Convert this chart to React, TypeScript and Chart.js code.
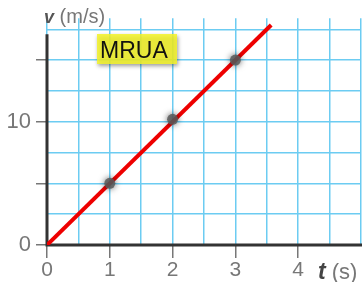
import React, { useEffect, useRef } from "react";
import { Chart, registerables } from "chart.js";

Chart.register(...registerables);

// Data
const pointT = [1, 2, 3];
const pointV = [5, 10.2, 15];
const lineT = [0, 3.57];
const lineV = [0, 17.85];
const xTickLabels = ["0", "1", "2", "3", "4"];
const yTickLabels = ["0", "10"];
const yMarkedTicks = [0, 5, 10, 15];
const xMax = 5;
const yMax = 18.4;
const yAxisTop = 17.1;
const yLabel = ["v", " (m/s)"];
const xLabel = ["t", " (s)"];
const boxText = "MRUA";

const GRID = "#6cccf2";
const GRAY = "#777777";
const AXIS = "#333333";

const decorPlugin = {
  id: "decor",
  beforeDatasetsDraw(chart: any) {
    const { ctx, scales } = chart;
    const x = scales.x;
    const y = scales.y;
    ctx.save();
    ctx.strokeStyle = AXIS;
    ctx.lineWidth = 3;
    ctx.beginPath();
    ctx.moveTo(x.getPixelForValue(0), y.getPixelForValue(yAxisTop));
    ctx.lineTo(x.getPixelForValue(0), y.getPixelForValue(0));
    ctx.lineTo(x.getPixelForValue(xMax) + 1, y.getPixelForValue(0));
    ctx.stroke();
    ctx.restore();
  },
  beforeDatasetDraw(chart: any, args: any) {
    if (args.index === 1) {
      chart.ctx.save();
      chart.ctx.shadowColor = "rgba(0,0,0,0.7)";
      chart.ctx.shadowBlur = 6;
    }
  },
  afterDatasetDraw(chart: any, args: any) {
    if (args.index === 1) chart.ctx.restore();
  },
  afterDraw(chart: any) {
    const { ctx } = chart;
    ctx.save();
    // y label
    ctx.textBaseline = "alphabetic";
    ctx.fillStyle = "#555";
    ctx.font = "italic bold 18px 'Liberation Sans'";
    ctx.fillText(yLabel[0], 44, 23);
    const w1 = ctx.measureText(yLabel[0]).width;
    ctx.fillStyle = GRAY;
    ctx.font = "20px 'Liberation Sans'";
    ctx.fillText(yLabel[1], 44 + w1, 23);
    // x label
    ctx.fillStyle = "#444";
    ctx.font = "italic bold 23px 'Liberation Sans'";
    ctx.fillText(xLabel[0], 318, 279);
    const w2 = ctx.measureText(xLabel[0]).width;
    ctx.fillStyle = GRAY;
    ctx.font = "22px 'Liberation Sans'";
    ctx.fillText(xLabel[1], 318 + w2, 279);
    // MRUA box
    ctx.shadowColor = "rgba(0,0,0,0.45)";
    ctx.shadowBlur = 4;
    ctx.shadowOffsetX = 1;
    ctx.shadowOffsetY = 2;
    ctx.fillStyle = "rgba(245,245,40,0.85)";
    ctx.fillRect(97, 34, 80, 30);
    ctx.shadowColor = "transparent";
    ctx.fillStyle = "#111";
    ctx.font = "23px 'Liberation Sans'";
    ctx.fillText(boxText, 100, 58);
    ctx.restore();
  },
};

export default function App() {
  const ref = useRef<HTMLCanvasElement>(null);
  useEffect(() => {
    if (!ref.current) return;
    const chart = new Chart(ref.current, {
      type: "scatter",
      data: {
        datasets: [
          {
            type: "line",
            data: lineT.map((t, i) => ({ x: t, y: lineV[i] })),
            borderColor: "#ee0000",
            borderWidth: 4,
            pointRadius: 0,
            order: 2,
          },
          {
            type: "scatter",
            data: pointT.map((t, i) => ({ x: t, y: pointV[i] })),
            backgroundColor: "rgba(90,90,90,0.85)",
            borderWidth: 0,
            pointRadius: 5.5,
            order: 1,
          },
        ],
      },
      plugins: [decorPlugin],
      options: {
        responsive: false,
        animation: false,
        layout: { autoPadding: false, padding: { top: 15, right: 2, left: 0, bottom: 0 } },
        plugins: { legend: { display: false }, tooltip: { enabled: false } },
        scales: {
          x: {
            type: "linear",
            min: 0,
            max: xMax,
            afterFit: (s: any) => {
              s.height = 37;
            },
            border: { display: false },
            grid: {
              color: GRID,
              lineWidth: 1.5,
              tickLength: 13,
              tickColor: (c: any) =>
                Number.isInteger(c.tick?.value) && c.tick.value <= 4 ? GRAY : "transparent",
              tickWidth: 1.5,
            },
            ticks: {
              stepSize: 0.5,
              autoSkip: false,
              maxRotation: 0,
              padding: 0,
              color: GRAY,
              font: { family: "'Liberation Sans'", size: 21 },
              callback: (v: any) => {
                const s = String(v);
                return xTickLabels.includes(s) ? s : "";
              },
            },
          },
          y: {
            type: "linear",
            min: 0,
            max: yMax,
            afterFit: (s: any) => {
              s.width = 47;
            },
            border: { display: false },
            grid: {
              color: GRID,
              lineWidth: 1.5,
              tickLength: 11,
              tickColor: (c: any) =>
                yMarkedTicks.includes(c.tick?.value) ? GRAY : "transparent",
              tickWidth: 1.5,
            },
            ticks: {
              stepSize: 2.5,
              includeBounds: false,
              autoSkip: false,
              padding: 5,
              color: GRAY,
              font: { family: "'Liberation Sans'", size: 22 },
              callback: (v: any) => {
                const s = String(v);
                return yTickLabels.includes(s) ? s : "";
              },
            },
          },
        },
      },
    } as any);
    return () => chart.destroy();
  }, []);
  return (
    <div style={{ position: "absolute", left: 0, top: 0, width: 363, height: 282 }}>
      <canvas ref={ref} width={363} height={282} style={{ width: 363, height: 282 }} />
    </div>
  );
}
